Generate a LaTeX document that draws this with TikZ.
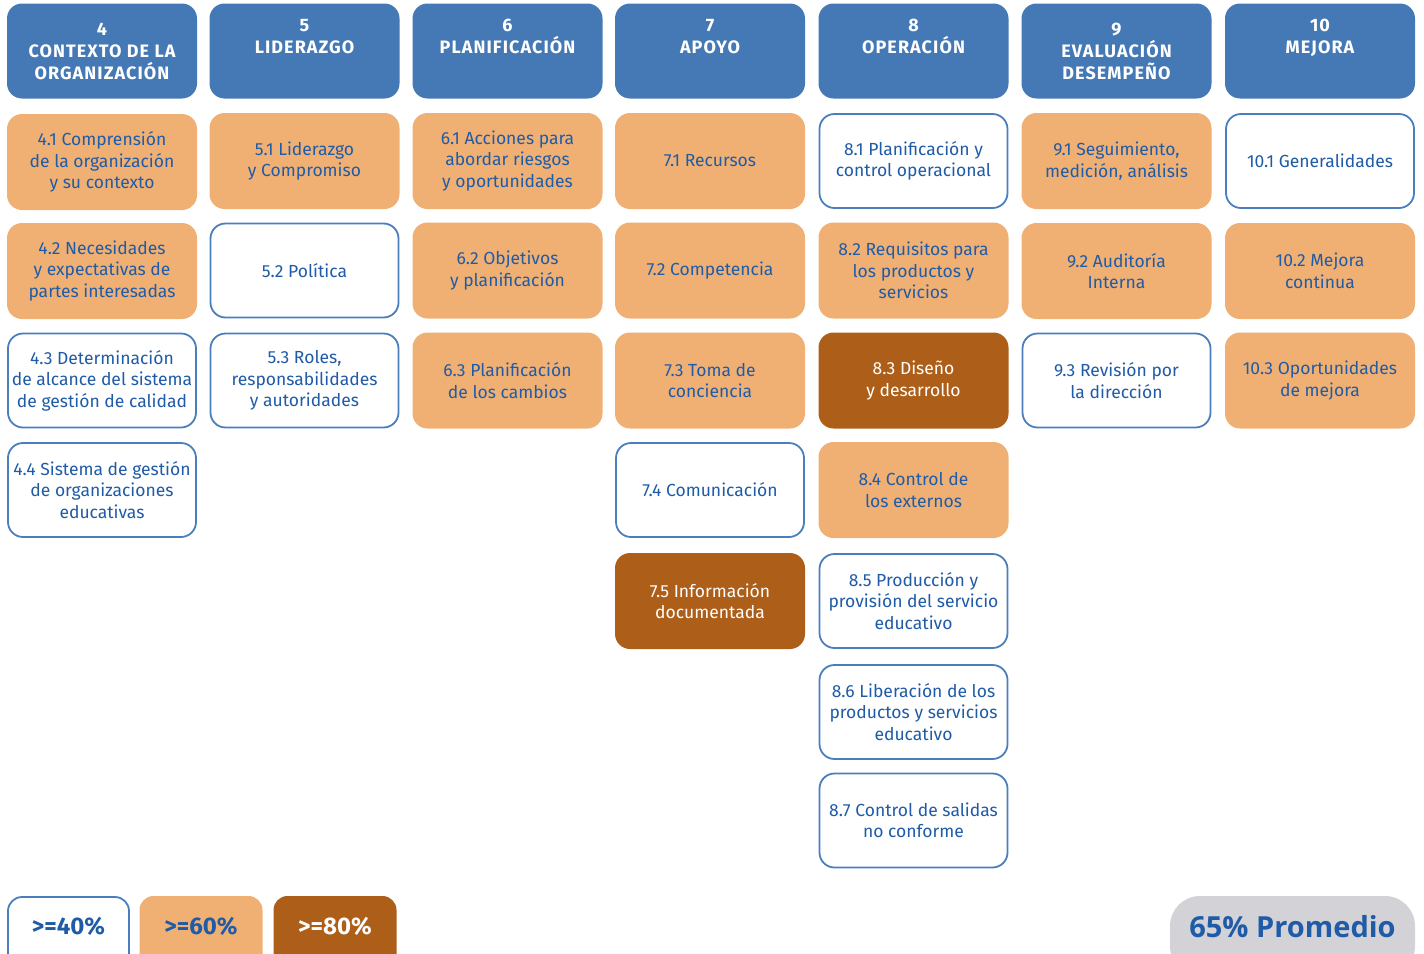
\documentclass[tikz,border=0pt]{standalone}
\usepackage{fontspec}
\setmainfont{Fira Sans}
\newfontfamily\hdrfont{Fira Sans}[LetterSpace=6]
\newfontfamily\promfont{Open Sans}
\definecolor{hdrblue}{HTML}{4579B5}
\definecolor{orng}{HTML}{F0B074}
\definecolor{brwn}{HTML}{AD5F19}
\definecolor{txtblue}{HTML}{1F5BA6}
\definecolor{bordblue}{HTML}{4A7EBD}
\definecolor{pillgrey}{HTML}{D2D2D7}
\tikzset{
  box/.style={rounded corners=15pt, minimum width=190pt, minimum height=96pt, inner sep=0pt, align=center, font=\fontsize{17.5}{21.5}\selectfont, text=txtblue},
  hdr/.style={rounded corners=15pt, minimum width=190pt, minimum height=95pt, inner sep=0pt, align=center, fill=hdrblue, text=white, font=\hdrfont\fontsize{18}{22}\selectfont\bfseries},
  lo/.style={box, fill=white, draw=bordblue, line width=1.8pt, minimum width=188pt, minimum height=94pt},
  mid/.style={box, fill=orng},
  hi/.style={box, fill=brwn, text=white},
  leg/.style={rounded corners=14pt, minimum width=123pt, minimum height=72pt, inner sep=0pt},
  legtext/.style={font=\fontsize{24}{28}\selectfont\bfseries, text=txtblue},
}
\begin{document}
\begin{tikzpicture}[x=1pt,y=-1pt]
\useasboundingbox (0,0) rectangle (1424,953);
% headers
\node[hdr] (h4) at (102,51) {4\\CONTEXTO DE LA\\ORGANIZACIÓN};
\node[hdr] (h5) at (304.5,51) {\raisebox{-1pt}{5}\\[1pt]LIDERAZGO\\\strut};
\node[hdr] (h6) at (507.5,51) {\raisebox{-1pt}{6}\\[1pt]PLANIFICACIÓN\\\strut};
\node[hdr] (h7) at (710,51) {\raisebox{-1pt}{7}\\[1pt]APOYO\\\strut};
\node[hdr] (h8) at (913.5,51) {\raisebox{-1pt}{8}\\[1pt]OPERACIÓN\\\strut};
\node[hdr] (h9) at (1116.5,51) {9\\EVALUACIÓN\\DESEMPEÑO};
\node[hdr] (h10) at (1320,51) {\raisebox{-1pt}{10}\\[1pt]MEJORA\\\strut};
% column 4
\node[mid] (n41) at (102,162) {4.1 Comprensión\\de la organización\\y su contexto};
\node[mid] (n42) at (102,271) {4.2 Necesidades\\y expectativas de\\partes interesadas};
\node[lo] (n43) at (102,380.5) {4.3 Determinación\\de alcance del sistema\\de gestión de calidad};
\node[lo] (n44) at (102,490) {4.4 Sistema de gestión\\de organizaciones\\educativas};
% column 5
\node[mid] (n51) at (304.5,161) {5.1 Liderazgo\\y Compromiso};
\node[lo] (n52) at (304.5,270.5) {5.2 Política};
\node[lo] (n53) at (304.5,380.5) {5.3 Roles,\\responsabilidades\\y autoridades};
% column 6
\node[mid] (n61) at (507.5,161) {6.1 Acciones para\\abordar riesgos\\y oportunidades};
\node[mid] (n62) at (507.5,270.5) {6.2 Objetivos\\y planificación};
\node[mid] (n63) at (507.5,380.5) {6.3 Planificación\\de los cambios};
% column 7
\node[mid] (n71) at (710,161) {7.1 Recursos};
\node[mid] (n72) at (710,270.5) {7.2 Competencia};
\node[mid] (n73) at (710,380.5) {7.3 Toma de\\conciencia};
\node[lo] (n74) at (710,490) {7.4 Comunicación};
\node[hi] (n75) at (710,601) {7.5 Información\\documentada};
% column 8
\node[lo] (n81) at (913.5,161) {8.1 Planificación y\\control operacional};
\node[mid] (n82) at (913.5,270.5) {8.2 Requisitos para\\los productos y\\servicios};
\node[hi] (n83) at (913.5,380.5) {8.3 Diseño\\y desarrollo};
\node[mid] (n84) at (913.5,490) {8.4 Control de\\los externos};
\node[lo] (n85) at (913.5,601) {8.5 Producción y\\provisión del servicio\\educativo};
\node[lo] (n86) at (913.5,712) {8.6 Liberación de los\\productos y servicios\\educativo};
\node[lo] (n87) at (913.5,820.5) {8.7 Control de salidas\\no conforme};
% column 9
\node[mid] (n91) at (1116.5,161) {9.1 Seguimiento,\\medición, análisis};
\node[mid] (n92) at (1116.5,271) {9.2 Auditoría\\Interna};
\node[lo] (n93) at (1116.5,380.5) {9.3 Revisión por\\la dirección};
% column 10
\node[lo] (n101) at (1320,161) {10.1 Generalidades};
\node[mid] (n102) at (1320,271) {10.2 Mejora\\continua};
\node[mid] (n103) at (1320,380.5) {10.3 Oportunidades\\de mejora};
% legend
\node[leg, draw=bordblue, line width=1.8pt, fill=white, minimum width=121pt, minimum height=70pt] (l40) at (68.5,932) {};
\node[legtext] (l40t) at (68.5,926) {>=40\%};
\node[leg, fill=orng] (l60) at (201,932) {};
\node[legtext] (l60t) at (201,926) {>=60\%};
\node[leg, fill=brwn] (l80) at (335,932) {};
\node[legtext, text=white] (l80t) at (335,926) {>=80\%};
\node[rounded corners=30pt, fill=pillgrey, minimum width=245pt, minimum height=80pt, inner sep=0pt] (prom) at (1292.5,936) {};
\node[font=\promfont\fontsize{29}{33}\selectfont\bfseries, text=txtblue] (promt) at (1292.5,927) {65\% Promedio};
\end{tikzpicture}
\end{document}
